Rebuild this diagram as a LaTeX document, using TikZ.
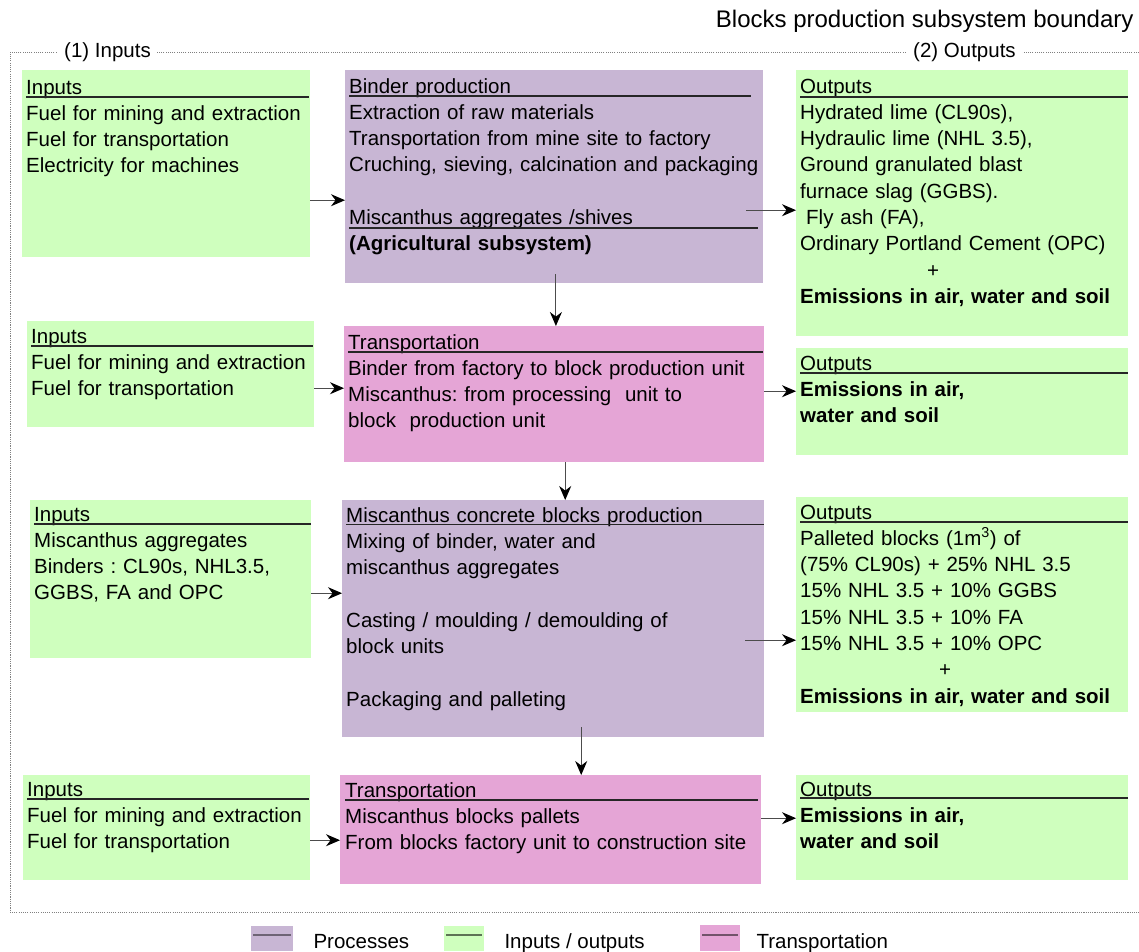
\documentclass[tikz,border=0pt]{standalone}
\usepackage{fontspec}
\setmainfont{Liberation Sans}
\usetikzlibrary{arrows.meta}
\frenchspacing
\definecolor{procC}{RGB}{200,182,212}
\definecolor{ioC}{RGB}{207,255,190}
\definecolor{transC}{RGB}{229,165,214}
\tikzset{
    box/.style={anchor=north west, inner sep=0pt, draw=none},
    procbox/.style={box, fill=procC},
    iobox/.style={box, fill=ioC},
    transbox/.style={box, fill=transC},
    body/.style={anchor=base west, inner sep=0pt, align=left, text width=480pt},
    uline/.style={line width=1.6pt, black!85},
    arr/.style={line width=1pt, black!70, -{Stealth[length=14pt,width=12pt,black]}},
    bound/.style={gray, line width=0.9pt, dash pattern=on 1.1pt off 1.1pt}
}
\begin{document}
\begin{tikzpicture}[x=1pt, y=-1pt, font=\fontsize{20.5}{26.3}\selectfont]
        \useasboundingbox (0,0) rectangle (1139,951);
        % Confine del sottosistema
        \node[anchor=base east, font=\fontsize{24}{28}\selectfont] (title) at (1137,27) {Blocks production subsystem boundary};
        \draw[bound] (1139,52) -- (10,52) -- (10,912) -- (1139,912);
        \node[anchor=base west, fill=white, inner xsep=6pt, inner ysep=2pt] (lbin) at (58,57) {(1) Inputs};
        \node[anchor=base west, fill=white, inner xsep=6pt, inner ysep=2pt] (lbout) at (907,57) {(2) Outputs};
        % Riquadri
        \node[iobox, minimum width=288, minimum height=187] (in1) at (22,70) {};
        \node[procbox, minimum width=418, minimum height=213] (pr1) at (345,70) {};
        \node[iobox, minimum width=332, minimum height=266] (out1) at (796,70) {};
        \node[iobox, minimum width=287, minimum height=106] (in2) at (27,321) {};
        \node[transbox, minimum width=420, minimum height=136] (tr1) at (344,326) {};
        \node[iobox, minimum width=332, minimum height=107] (out2) at (796,348) {};
        \node[iobox, minimum width=281, minimum height=158] (in3) at (30,500) {};
        \node[procbox, minimum width=422, minimum height=237] (pr2) at (342,500) {};
        \node[iobox, minimum width=332, minimum height=215] (out3) at (796,497) {};
        \node[iobox, minimum width=287, minimum height=105] (in4) at (23,775) {};
        \node[transbox, minimum width=421, minimum height=109] (tr2) at (340,775) {};
        \node[iobox, minimum width=332, minimum height=105] (out4) at (796,775) {};
        % Testi
        \node[body] (in1t) at (26,94) {Inputs\\Fuel for mining and extraction\\Fuel for transportation\\Electricity for machines};
        \node[body] (pr1t) at (349,93) {Binder production\\Extraction of raw materials\\Transportation from mine site to factory\\Cruching, sieving, calcination and packaging\\[26.3pt]Miscanthus aggregates /shives\\\textbf{(Agricultural subsystem)}};
        \node[body] (out1t) at (800,93) {Outputs\\Hydrated lime (CL90s),\\Hydraulic lime (NHL 3.5),\\Ground granulated blast\\furnace slag (GGBS).\\\hspace*{6pt}Fly ash (FA),\\Ordinary Portland Cement (OPC)\\\hspace*{127pt}+\\\textbf{Emissions in air, water and soil}};
        \node[body] (in2t) at (31,343) {Inputs\\Fuel for mining and extraction\\Fuel for transportation};
        \node[body] (tr1t) at (348,349) {Transportation\\Binder from factory to block production unit\\Miscanthus: from processing\ \ unit to\\block\ \ production unit};
        \node[body] (out2t) at (800,370) {Outputs\\\textbf{Emissions in air,}\\\textbf{water and soil}};
        \node[body] (in3t) at (34,521) {Inputs\\Miscanthus aggregates\\Binders : CL90s, NHL3.5,\\GGBS, FA and OPC};
        \node[body] (pr2t) at (346,522) {Miscanthus concrete blocks production\\Mixing of binder, water and\\miscanthus aggregates\\[26.3pt]Casting / moulding / demoulding of\\block units\\[26.3pt]Packaging and palleting};
        \node[body] (out3t) at (800,519) {Outputs\\Palleted blocks (1m\textsuperscript{3}) of\\(75\% CL90s) + 25\% NHL 3.5\\15\% NHL 3.5 + 10\% GGBS\\15\% NHL 3.5 + 10\% FA\\15\% NHL 3.5 + 10\% OPC\\\hspace*{139pt}+\\\textbf{Emissions in air, water and soil}};
        \node[body] (in4t) at (27,796) {Inputs\\Fuel for mining and extraction\\Fuel for transportation};
        \node[body] (tr2t) at (345,797) {Transportation\\Miscanthus blocks pallets\\From blocks factory unit to construction site};
        \node[body] (out4t) at (800,796) {Outputs\\\textbf{Emissions in air,}\\\textbf{water and soil}};
        % Sottolineature
        \draw[uline] (26,97) -- (309,97);
        \draw[uline] (349,96) -- (751,96);
        \draw[uline] (349,228) -- (758,228);
        \draw[uline] (800,97) -- (1128,97);
        \draw[uline] (31,346) -- (313,346);
        \draw[uline] (348,352) -- (763,352);
        \draw[uline] (800,373) -- (1128,373);
        \draw[uline] (34,524) -- (311,524);
        \draw[uline] (346,524.5) -- (764,524.5);
        \draw[uline] (800,522) -- (1128,522);
        \draw[uline] (27,799) -- (309,799);
        \draw[uline] (345,800) -- (758,800);
        \draw[uline] (800,798) -- (1128,798);
        % Frecce
        \draw[arr] ([yshift=-36.5pt]in1.east) coordinate (a1) -- (a1 -| pr1.west);
        \draw[arr] ([xshift=-17pt,yshift=-33.5pt]pr1.east) coordinate (a2) -- (a2 -| out1.west);
        \draw[arr] ([xshift=1.7pt,yshift=9pt]pr1.south) coordinate (a3) -- (a3 |- tr1.north);
        \draw[arr] ([yshift=-14pt]in2.east) coordinate (a4) -- (a4 -| tr1.west);
        \draw[arr] ([yshift=3pt]tr1.east) coordinate (a5) -- (a5 -| out2.west);
        \draw[arr] ([xshift=11pt]tr1.south) coordinate (a6) -- (a6 |- pr2.north);
        \draw[arr] ([yshift=-14pt]in3.east) coordinate (a7) -- (a7 -| pr2.west);
        \draw[arr] ([xshift=-19pt,yshift=-21.5pt]pr2.east) coordinate (a8) -- (a8 -| out3.west);
        \draw[arr] ([xshift=28pt,yshift=10pt]pr2.south) coordinate (a9) -- (a9 |- tr2.north);
        \draw[arr] ([yshift=-12.5pt]in4.east) coordinate (a10) -- (a10 -| tr2.west);
        \draw[arr] ([yshift=11.5pt]tr2.east) coordinate (a11) -- (a11 -| out4.west);
        % Legenda
        \node[procbox, minimum width=42, minimum height=25] (lgp) at (251,926) {};
        \draw[line width=1.6pt, procC!55!black] ([xshift=2pt,yshift=-9pt]lgp.north west) -- ([xshift=-2pt,yshift=-9pt]lgp.north east);
        \node[anchor=base west] (lgpt) at (310,948) {Processes};
        \node[iobox, minimum width=40, minimum height=25] (lgi) at (444,926) {};
        \draw[line width=1.6pt, ioC!45!black] ([xshift=2pt,yshift=-9pt]lgi.north west) -- ([xshift=-2pt,yshift=-9pt]lgi.north east);
        \node[anchor=base west] (lgit) at (501,948) {Inputs / outputs};
        \node[transbox, minimum width=40, minimum height=26] (lgt) at (700,925) {};
        \draw[line width=1.6pt, transC!50!black] ([xshift=2pt,yshift=-10pt]lgt.north west) -- ([xshift=-2pt,yshift=-10pt]lgt.north east);
        \node[anchor=base west] (lgtt) at (753,948) {Transportation};
    \end{tikzpicture}
\end{document}
